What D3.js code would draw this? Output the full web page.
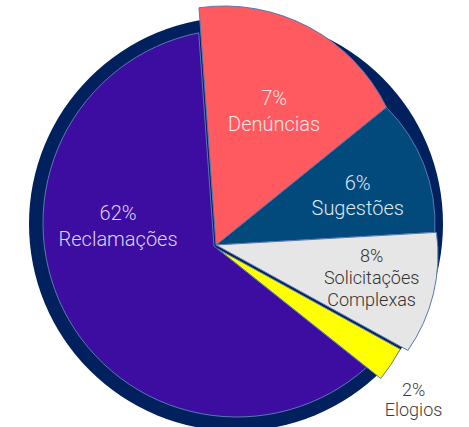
<!DOCTYPE html>
<html>
<head>
<meta charset="utf-8">
<script src="https://cdn.jsdelivr.net/npm/d3@7"></script>
<style>
  html, body { margin: 0; background: #fff; }
  svg { display: block; font-family: Roboto, "Noto Sans", sans-serif; }
</style>
</head>
<body>
<svg width="469" height="427"></svg>
<script>
// Dados
var categorias = ["Denúncias", "Sugestões", "Solicitações Complexas", "Elogios", "Reclamações"];
var percentuais = [7, 6, 8, 2, 62];            // texto mostrado em cada fatia
var fatias = [15.3, 9.9, 8.9, 2.7, 63.1];      // tamanho das fatias como aparecem no desenho

// Estilo
var cores = ["#ff5a5f", "#034a7c", "#e6e6e6", "#ffff00", "#3c0da0"];
var coresTexto = ["#ffe6e6", "#dde8f3", "#333333", "#3d3d3d", "#ddd4f6"];
var fonte = [20, 20, 18, 18, 20];
var entrelinha = [26, 25, 22, 20, 26];

// Geometria: disco de fundo e borda de cada fatia (com o vértice de cada uma)
var fundo = { cx: 236, cy: 224, r: 207 };
var bordas = [
  { cx: 224, cy: 187, r: 181, vx: 216, vy: 245 },
  { cx: 271, cy: 224, r: 164, vx: 216, vy: 245 },
  { cx: 272, cy: 255, r: 166, vx: 216, vy: 245 },
  { cx: 218, cy: 249, r: 208, vx: 218, vy: 249 },
  { cx: 237, cy: 223, r: 194, vx: 214, vy: 246 }
];
// Posição dos rótulos (raio e ajuste de ângulo em graus, a partir do vértice)
var rotuloR = [146, 150, 159, 247, 98];
var rotuloDA = [0, 2, -1, 4, 39.6];

var svg = d3.select("svg");

// Ângulos das fatias
var inicio = -4.1 * Math.PI / 180;
var pie = d3.pie().sort(null).value(function (d) { return d; })
  .startAngle(inicio).endAngle(inicio + 2 * Math.PI);
var arcos = pie(fatias);

// Intersecção de um raio saindo do vértice com o círculo da borda
function corte(b, a) {
  var dx = Math.sin(a), dy = -Math.cos(a);
  var wx = b.vx - b.cx, wy = b.vy - b.cy;
  var p = dx * wx + dy * wy;
  var c = wx * wx + wy * wy - b.r * b.r;
  var t = -p + Math.sqrt(p * p - c);
  return [b.vx + t * dx, b.vy + t * dy];
}

function angulo(b, pt) {
  return Math.atan2(pt[0] - b.cx, -(pt[1] - b.cy));
}

function caminho(d, i) {
  var b = bordas[i];
  var p0 = corte(b, d.startAngle), p1 = corte(b, d.endAngle);
  var span = angulo(b, p1) - angulo(b, p0);
  while (span < 0) span += 2 * Math.PI;
  var grande = span > Math.PI ? 1 : 0;
  return "M" + b.vx + "," + b.vy +
    "L" + p0[0] + "," + p0[1] +
    "A" + b.r + "," + b.r + " 0 " + grande + " 1 " + p1[0] + "," + p1[1] + "Z";
}

// Disco de fundo
svg.append("circle")
  .attr("cx", fundo.cx).attr("cy", fundo.cy).attr("r", fundo.r)
  .attr("fill", "#00205e");

// Fatias (Reclamações primeiro, por baixo)
var ordem = [4, 1, 2, 3, 0];
svg.append("g").selectAll("path")
  .data(ordem.map(function (i) { return { d: arcos[i], i: i }; }))
  .enter().append("path")
  .attr("d", function (o) { return caminho(o.d, o.i); })
  .attr("fill", function (o) { return cores[o.i]; })
  .attr("stroke", "#5a78b0")
  .attr("stroke-width", 1)
  .attr("stroke-linejoin", "miter");

// Rótulos
svg.append("g").selectAll("text")
  .data(arcos)
  .enter().append("text")
  .attr("text-anchor", "middle")
  .attr("font-weight", 300)
  .attr("font-size", function (d, i) { return fonte[i]; })
  .attr("fill", function (d, i) { return coresTexto[i]; })
  .each(function (d, i) {
    var b = bordas[i];
    var a = (d.startAngle + d.endAngle) / 2 + rotuloDA[i] * Math.PI / 180;
    var x = b.vx + rotuloR[i] * Math.sin(a);
    var y = b.vy - rotuloR[i] * Math.cos(a);
    var linhas = [percentuais[i] + "%"].concat(
      categorias[i] === "Solicitações Complexas" ? ["Solicitações", "Complexas"] : [categorias[i]]);
    var cap = fonte[i] * 0.71;
    var altura = cap + (linhas.length - 1) * entrelinha[i];
    var y0 = y - altura / 2 + cap;
    var t = d3.select(this);
    linhas.forEach(function (l, k) {
      t.append("tspan").attr("x", x).attr("y", y0 + k * entrelinha[i]).text(l);
    });
  });
</script>
</body>
</html>
